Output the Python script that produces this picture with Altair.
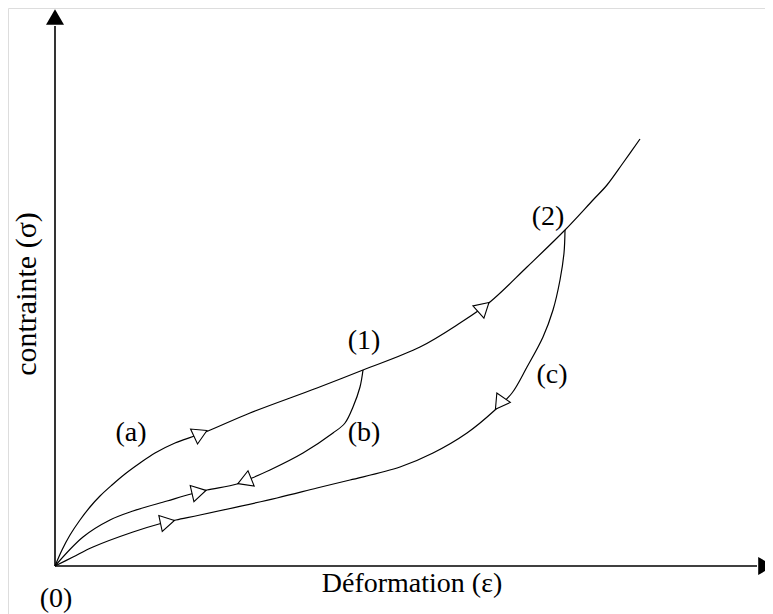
import altair as alt
import pandas as pd

# ---- curves (strain, stress), arbitrary units, origin at (0)
a_x = [0, 7, 15, 25, 35, 45, 57, 70, 85, 100, 120, 138, 153, 195, 262, 308, 365, 405, 435, 472, 510, 538, 552, 568, 585]
a_y = [0, 16, 31, 46, 59, 70, 81, 92, 103, 113, 123, 129.5, 135, 153, 178, 196, 219, 243, 264, 299, 336, 366, 381, 403, 427]

b_x = [308, 305, 298, 290, 278, 248, 215, 197, 182, 152, 136, 112, 78, 55, 28, 0]
b_y = [196, 179, 159, 143, 133, 113, 96, 88, 82, 76, 72, 65, 55, 46, 29, 0]

c_x = [510, 509, 505, 498, 488, 472, 457, 440, 412, 378, 345, 295, 262, 222, 145, 121, 104, 78, 38, 18, 0]
c_y = [336, 313, 286, 256, 229, 199, 173, 156, 133, 113, 99, 86, 78, 68, 51, 46, 42, 34, 19, 9, 0]

# ---- direction arrows on the curves
arr_x = [145.5, 428.7, 189.5, 144.0, 444.5, 112.5]
arr_y = [132.5, 258.7, 85.0, 74.0, 162.5, 44.0]
arr_angle = [335, 318, 158, 347, 125, 348]

# ---- point / curve labels
lab_text = ["(a)", "(b)", "(c)", "(1)", "(2)", "(0)"]
lab_x = [76, 309, 497, 309, 493, 1]
lab_y = [125, 125, 183, 217, 341, -41]

x_title = "Déformation (ε)"
y_title = "contrainte (σ)"

FONT = "Liberation Serif"
FS = 28

rows = []
for name, xs, ys in (("a", a_x, a_y), ("b", b_x, b_y), ("c", c_x, c_y)):
    for i, (x, y) in enumerate(zip(xs, ys)):
        rows.append({"curve": name, "i": i, "x": x, "y": y})
curves = pd.DataFrame(rows)
arrows = pd.DataFrame({"x": arr_x, "y": arr_y, "angle": arr_angle})
labels = pd.DataFrame({"t": lab_text, "x": lab_x, "y": lab_y})

xs = alt.Scale(domain=[-47, 710], nice=False, zero=False)
ys = alt.Scale(domain=[-48, 558], nice=False, zero=False)
X = lambda f="x": alt.X(f"{f}:Q", scale=xs, axis=None)
Y = lambda f="y": alt.Y(f"{f}:Q", scale=ys, axis=None)

# axes drawn as rules with arrowheads
axes_df = pd.DataFrame({"x": [0, 0], "y": [0, 0], "x2": [702, 0], "y2": [0, 540]})
axes = alt.Chart(axes_df).mark_rule(color="black", strokeWidth=1.6).encode(
    x=X(), y=Y(), x2="x2:Q", y2="y2:Q")
heads_df = pd.DataFrame({"x": [0, 711], "y": [549, 0], "s": ["triangle-up", "triangle-right"]})
heads = alt.Chart(heads_df).mark_point(filled=True, color="black", opacity=1, size=324).encode(
    x=X(), y=Y(), shape=alt.Shape("s:N", scale=None))

lines = alt.Chart(curves).mark_line(color="black", strokeWidth=1.2, interpolate="catmull-rom").encode(
    x=X(), y=Y(), detail="curve:N", order="i:Q")

tri = alt.Chart(arrows).mark_point(shape="triangle-right", filled=True, fill="white", stroke="black",
                                   strokeWidth=1.1, opacity=1, size=270).encode(
    x=X(), y=Y(), angle=alt.Angle("angle:Q", scale=None))

txt = alt.Chart(labels).mark_text(font=FONT, fontSize=FS, baseline="alphabetic", align="center",
                                  color="black").encode(x=X(), y=Y(), text="t:N")

xt = alt.Chart(pd.DataFrame({"t": [x_title], "x": [357], "y": [-26]})).mark_text(
    font=FONT, fontSize=FS, baseline="alphabetic", align="center", color="black").encode(
    x=X(), y=Y(), text="t:N")
yt = alt.Chart(pd.DataFrame({"t": [y_title], "x": [-19], "y": [272]})).mark_text(
    font=FONT, fontSize=30, baseline="alphabetic", align="center", angle=270, color="black").encode(
    x=X(), y=Y(), text="t:N")

chart = alt.layer(axes, lines, tri, heads, txt, xt, yt).properties(
    width=757, height=606, autosize=alt.AutoSizeParams(type="none"), padding=0
).configure_view(stroke=None).configure(background="white")

chart.save("out.html", embed_options={"renderer": "svg", "actions": False})
